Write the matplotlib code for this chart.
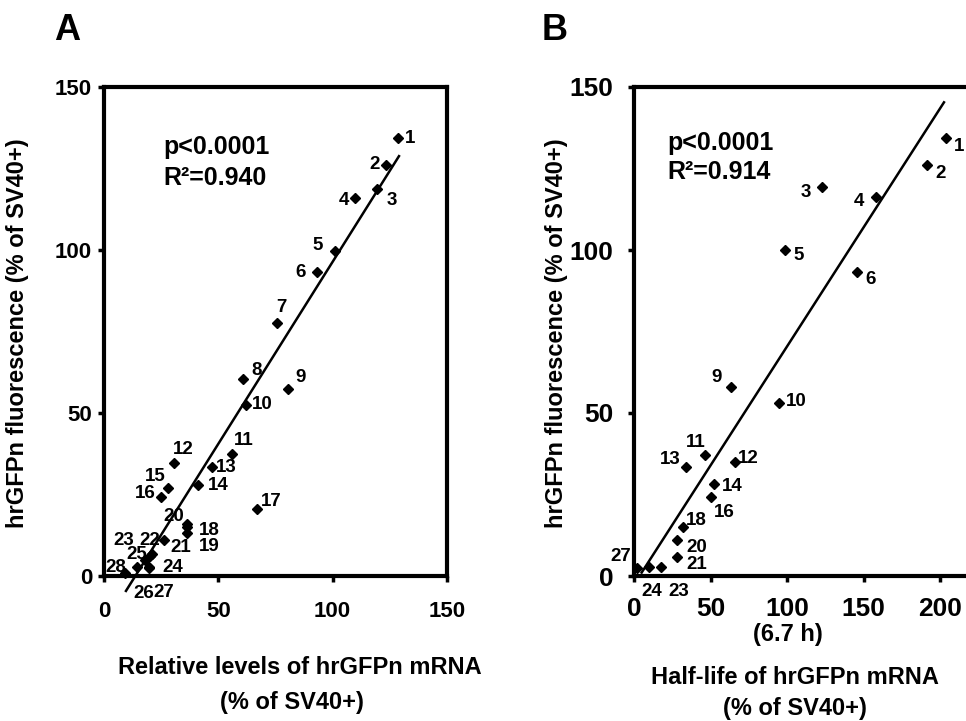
import matplotlib
matplotlib.use('Agg')
import matplotlib.pyplot as plt
import numpy as np

plt.rcParams['font.family'] = ['Liberation Sans', 'DejaVu Sans']
plt.rcParams['font.weight'] = 'bold'

# Panel A: relative mRNA level vs fluorescence
a_ids = ['1', '2', '3', '4', '5', '6', '7', '8', '9', '10', '11', '12', '13', '14',
         '15', '16', '17', '18', '19', '20', '21', '22', '23', '24', '25', '26', '27', '28']
a_x = [128.4, 123.2, 119.2, 109.9, 101.0, 93.3, 75.8, 60.6, 80.6, 62.1, 55.8, 30.6, 47.1, 41.0,
       28.2, 24.9, 66.8, 36.3, 36.2, 36.2, 26.2, 20.9, 20.0, 19.8, 17.9, 14.3, 19.5, 9.2]
a_y = [134.3, 126.1, 118.7, 115.9, 99.8, 93.1, 77.7, 60.3, 57.5, 52.5, 37.3, 34.8, 33.3, 27.9,
       27.0, 24.3, 20.5, 15.0, 13.1, 16.0, 11.0, 6.7, 6.0, 2.7, 4.9, 2.7, 2.5, 1.0]
a_slope, a_icpt = 1.117, -15.3
a_fit_x = [9.6, 129.0]
a_stats = ['p<0.0001', 'R\u00b2=0.940']

# Panel B: mRNA half-life vs fluorescence
b_ids = ['1', '2', '3', '4', '5', '6', '9', '10', '11', '12', '13', '14',
         '16', '18', '20', '21', '23', '24', '27']
b_x = [203.7, 191.7, 122.7, 158.4, 98.5, 146.0, 63.2, 94.8, 46.4, 65.8, 33.8, 52.3,
       50.5, 32.0, 28.3, 28.3, 17.4, 9.8, 2.2]
b_y = [134.3, 126.1, 119.4, 116.2, 100.0, 93.3, 57.9, 53.0, 37.1, 35.1, 33.3, 28.1,
       24.1, 15.1, 11.0, 5.9, 2.7, 2.7, 2.4]
b_slope, b_icpt = 0.73, -2.6
b_fit_x = [5.0, 202.6]
b_stats = ['p<0.0001', 'R\u00b2=0.914']

ticks_a = [0, 50, 100, 150]
ticks_b = [0, 50, 100, 150, 200]

# label offsets in pixels (dx, dy), text centred
a_off = {'1': (12, 0), '2': (-11, 0), '3': (15, -11), '4': (-11, -2), '5': (-17, 5),
         '6': (-17, 0), '7': (4, 15), '8': (14, 9), '9': (12, 11), '10': (16, 0),
         '11': (12, 14), '12': (9, 13), '13': (15, 0), '14': (20, 0), '15': (-13, 11),
         '16': (-16, 3), '17': (15, 8), '18': (22, -3), '19': (22, -13), '20': (-13, 7),
         '21': (17, -7), '22': (-2, 14), '23': (-26, 16), '24': (23, 0), '25': (-8, 6),
         '26': (7, -26), '27': (15, -25), '28': (-9, 5)}
b_off = {'1': (13, -8), '2': (13, -9), '3': (-16, -6), '4': (-17, -4), '5': (14, -5),
         '6': (13, -8), '9': (-14, 10), '10': (17, 2), '11': (-9, 13), '12': (14, 3),
         '13': (-15, 8), '14': (18, -2), '16': (13, -15), '18': (13, 6), '20': (19, -7),
         '21': (19, -8), '23': (18, -24), '24': (3, -24), '27': (-17, 12)}

W, H = 966, 721
fig = plt.figure(figsize=(W / 100, H / 100), dpi=100)


def style_axes(ax, xmax, ticks, tick_fs, xpad, ypad):
    ax.set_xlim(0, xmax)
    ax.set_ylim(0, 150)
    for s in ax.spines.values():
        s.set_linewidth(3)
    ax.set_xticks(ticks)
    ax.set_yticks([0, 50, 100, 150])
    ax.tick_params(axis='x', direction='out', length=4, width=2.5, labelsize=tick_fs, pad=xpad)
    ax.tick_params(axis='y', direction='out', length=4, width=2.5, labelsize=tick_fs, pad=ypad)
    for lab in ax.get_xticklabels() + ax.get_yticklabels():
        lab.set_fontweight('bold')


def draw_panel(ax, xs, ys, ids, offs, slope, icpt, fit_x):
    fx = np.array(fit_x)
    ax.plot(fx, slope * fx + icpt, color='black', lw=1.8, clip_on=False, zorder=3)
    ax.plot(xs, ys, 'D', color='black', ms=5, clip_on=False, zorder=4)
    for x, y, t in zip(xs, ys, ids):
        dx, dy = offs[t]
        ax.annotate(t, (x, y), xytext=(dx, dy), textcoords='offset pixels',
                    ha='center', va='center', fontsize=13.5, fontweight='bold',
                    annotation_clip=False)


# panel A
axA = fig.add_axes([104 / W, 1 - 576 / H, (447 - 104) / W, (576 - 87) / H])
style_axes(axA, 150, ticks_a, 16, 14, 4.5)
draw_panel(axA, a_x, a_y, a_ids, a_off, a_slope, a_icpt, a_fit_x)
fig.text(163 / W, 1 - 147 / H, a_stats[0], fontsize=18, fontweight='bold', va='center')
fig.text(163 / W, 1 - 178 / H, a_stats[1], fontsize=18, fontweight='bold', va='center')

# panel B (right part is cut off by the figure edge)
axB = fig.add_axes([634 / W, 1 - 576 / H, 382.5 / W, (576 - 87) / H])
style_axes(axB, 250, ticks_b, 19, 11, 11)
draw_panel(axB, b_x, b_y, b_ids, b_off, b_slope, b_icpt, b_fit_x)
fig.text(667 / W, 1 - 143 / H, b_stats[0], fontsize=18, fontweight='bold', va='center')
fig.text(667 / W, 1 - 172 / H, b_stats[1], fontsize=18, fontweight='bold', va='center')

# titles and axis labels
fig.text(67 / W, 1 - 30 / H, 'A', fontsize=26, fontweight='bold', ha='center', va='center')
fig.text(555 / W, 1 - 30 / H, 'B', fontsize=26, fontweight='bold', ha='center', va='center')

ylab = 'hrGFPn fluorescence (% of SV40+)'
fig.text(18 / W, 1 - 333 / H, ylab, rotation=90, fontsize=17, fontweight='bold',
         ha='center', va='center')
fig.text(556 / W, 1 - 333 / H, ylab, rotation=90, fontsize=17, fontweight='bold',
         ha='center', va='center')

fig.text(300 / W, 1 - 667 / H, 'Relative levels of hrGFPn mRNA', fontsize=17,
         fontweight='bold', ha='center', va='center')
fig.text(292 / W, 1 - 703 / H, '(% of SV40+)', fontsize=17, fontweight='bold',
         ha='center', va='center')
fig.text(795 / W, 1 - 677 / H, 'Half-life of hrGFPn mRNA', fontsize=17,
         fontweight='bold', ha='center', va='center')
fig.text(795 / W, 1 - 708 / H, '(% of SV40+)', fontsize=17, fontweight='bold',
         ha='center', va='center')
fig.text(788 / W, 1 - 634 / H, '(6.7 h)', fontsize=17, fontweight='bold',
         ha='center', va='center')

fig.savefig('out.png', dpi=100)
